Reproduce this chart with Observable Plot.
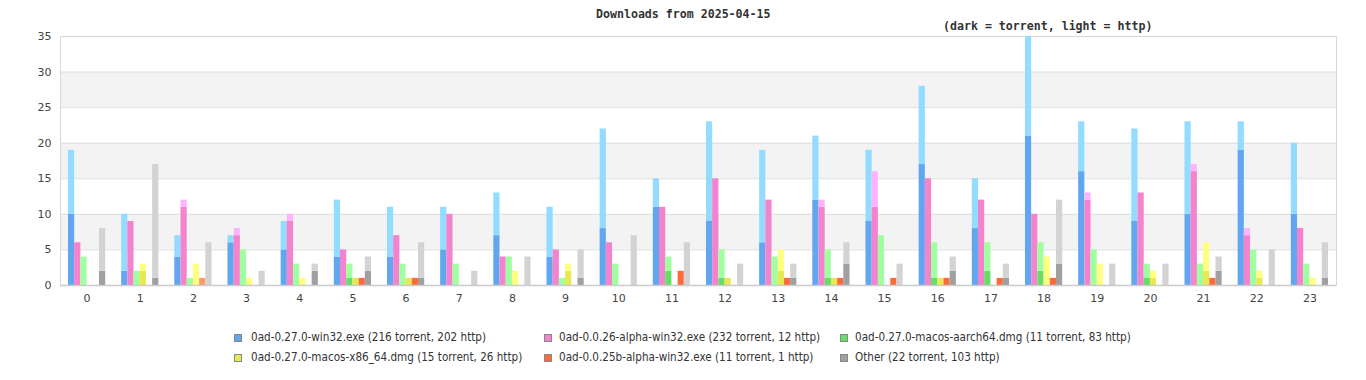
<!DOCTYPE html>
<html>
<head>
<meta charset="utf-8">
<script src="https://cdn.jsdelivr.net/npm/d3@7"></script>
<script src="https://cdn.jsdelivr.net/npm/@observablehq/plot@0.6"></script>
<style>
  body { margin: 0; background: #fff; width: 1366px; height: 380px; position: relative; overflow: hidden; }
  #header { position: relative; height: 30px; }
  .mono { position: absolute; font-family: "DejaVu Sans Mono", monospace; font-weight: bold; font-size: 11.6px; color: #333; white-space: nowrap; line-height: 12px; }
  #legend { position: relative; height: 70px; }
  .sw { position: absolute; width: 6px; height: 6px; border: 1px solid #888; }
  .lt { position: absolute; font-family: "DejaVu Sans Condensed", "DejaVu Sans", sans-serif; font-stretch: condensed; font-size: 11.6px; color: #333; white-space: nowrap; line-height: 12px; }
</style>
</head>
<body>
<div id="header">
  <div class="mono" id="title" style="left:596px; top:8px;"></div>
  <div class="mono" id="subtitle" style="left:943px; top:20px;"></div>
</div>
<div id="chart"></div>
<div id="legend"></div>
<script>
const titleText = "Downloads from 2025-04-15";
const subtitleText = "(dark = torrent, light = http)";
const hours = d3.range(24);
const yTicks = [0, 5, 10, 15, 20, 25, 30, 35];

const seriesNames = ["win32", "alpha26", "aarch64", "x86_64", "alpha25b", "other"];
const legendLabels = [
  "0ad-0.27.0-win32.exe (216 torrent, 202 http)",
  "0ad-0.0.26-alpha-win32.exe (232 torrent, 12 http)",
  "0ad-0.27.0-macos-aarch64.dmg (11 torrent, 83 http)",
  "0ad-0.27.0-macos-x86_64.dmg (15 torrent, 26 http)",
  "0ad-0.0.25b-alpha-win32.exe (11 torrent, 1 http)",
  "Other (22 torrent, 103 http)"
];
const darkColors  = ["#62a6f0", "#f283cc", "#66dd66", "#e8e850", "#ff6a3d", "#a0a0a0"];
const lightColors = ["#93dbff", "#ffb3ff", "#a0ffa0", "#ffff80", "#ff9966", "#d3d3d3"];

// per-hour values, hours 0..23
const win32Torrent    = [10,2,4,6,5,4,4,5,7,4,8,11,9,6,12,9,17,8,21,16,9,10,19,10];
const win32Http       = [9,8,3,1,4,8,7,6,6,7,14,4,14,13,9,10,11,7,14,7,13,13,4,10];
const alpha26Torrent  = [6,9,11,7,9,5,7,10,4,5,6,11,15,12,11,11,15,12,10,12,13,16,7,8];
const alpha26Http     = [0,0,1,1,1,0,0,0,0,0,0,0,0,0,1,5,0,0,0,1,0,1,1,0];
const aarch64Torrent  = [0,0,0,0,0,1,0,0,0,0,0,2,1,0,1,0,1,2,2,0,1,0,0,0];
const aarch64Http     = [4,2,1,5,3,2,3,3,4,1,3,2,4,4,4,7,5,4,4,5,2,3,5,3];
const x86Torrent      = [0,2,0,0,0,1,1,0,0,2,0,0,1,2,1,0,1,0,0,0,1,2,1,0];
const x86Http         = [0,1,3,1,1,0,0,0,2,1,0,0,0,3,0,0,0,0,4,3,1,4,1,1];
const alpha25bTorrent = [0,0,0,0,0,1,1,0,0,0,0,2,0,1,1,1,1,1,1,0,0,1,0,0];
const alpha25bHttp    = [0,0,1,0,0,0,0,0,0,0,0,0,0,0,0,0,0,0,0,0,0,0,0,0];
const otherTorrent    = [2,1,0,0,2,2,1,0,0,1,0,0,0,1,3,0,2,1,3,0,0,2,0,1];
const otherHttp       = [6,16,6,2,1,2,5,2,4,4,7,6,3,2,3,3,2,2,9,3,3,2,5,5];

const torrentBySeries = [win32Torrent, alpha26Torrent, aarch64Torrent, x86Torrent, alpha25bTorrent, otherTorrent];
const httpBySeries    = [win32Http, alpha26Http, aarch64Http, x86Http, alpha25bHttp, otherHttp];

document.getElementById("title").textContent = titleText;
document.getElementById("subtitle").textContent = subtitleText;

const width = 1366, marginLeft = 60, marginRight = 30;
const bw = (width - marginLeft - marginRight) / hours.length;
const groupFrac = 0.7;
const barW = bw * groupFrac / seriesNames.length;
const lead = bw * (1 - groupFrac) / 2;

const bands = [{lo: 5, hi: 10}, {lo: 15, hi: 20}, {lo: 25, hi: 30}];

const barMarks = seriesNames.map((s, i) => {
  const rows = [];
  hours.forEach((h, j) => {
    rows.push({hour: h, kind: "torrent", value: torrentBySeries[i][j], color: darkColors[i]});
  });
  hours.forEach((h, j) => {
    rows.push({hour: h, kind: "http", value: httpBySeries[i][j], color: lightColors[i]});
  });
  const il = lead + i * barW;
  const ir = bw - il - barW;
  return Plot.barY(rows.filter(d => d.value > 0), Plot.stackY({
    x: "hour", y: "value", z: "kind", fill: "color",
    order: ["torrent", "http"],
    insetLeft: il, insetRight: ir
  }));
});

const chart = Plot.plot({
  width, height: 280,
  marginLeft, marginRight, marginTop: 6, marginBottom: 25,
  style: {fontFamily: "DejaVu Sans, sans-serif", fontSize: "11px", color: "#444", background: "#fff"},
  x: {type: "band", domain: hours, padding: 0, round: false},
  y: {domain: [0, 35]},
  color: {type: "identity"},
  marks: [
    Plot.rect(bands, {y1: "lo", y2: "hi", fill: "#f3f3f3"}),
    Plot.ruleY(yTicks.filter(t => t > 0), {stroke: "#dedede"}),
    Plot.frame({stroke: "#d8d8d8"}),
    ...barMarks,
    Plot.ruleY([0], {stroke: "#cccccc", strokeWidth: 1.5}),
    Plot.axisY(yTicks, {tickSize: 0, tickPadding: 9, fontSize: 11, label: null}),
    Plot.axisX({tickSize: 0, tickPadding: 9, fontSize: 11, label: null})
  ]
});
document.getElementById("chart").appendChild(chart);

// legend
const legend = document.getElementById("legend");
const swX = [234, 544, 840];
const txX = [251, 559, 855];
const rowY = [24, 44];
legendLabels.forEach((lab, i) => {
  const col = i % 3, row = Math.floor(i / 3);
  const sw = document.createElement("div");
  sw.className = "sw";
  sw.style.left = swX[col] + "px";
  sw.style.top = rowY[row] + "px";
  sw.style.background = darkColors[i];
  legend.appendChild(sw);
  const t = document.createElement("div");
  t.className = "lt";
  t.style.left = txX[col] + "px";
  t.style.top = (rowY[row] - 3) + "px";
  t.textContent = lab;
  legend.appendChild(t);
});
</script>
</body>
</html>
